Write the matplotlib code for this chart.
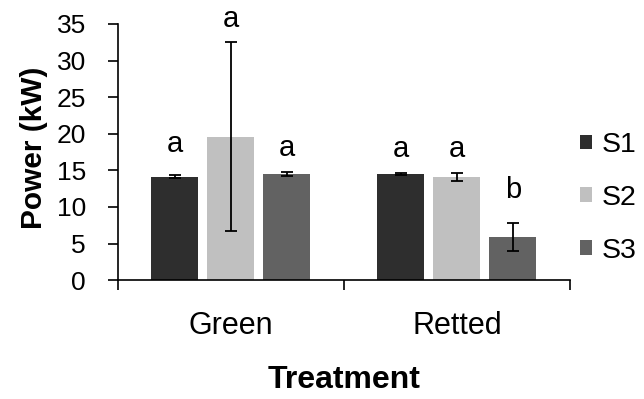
import matplotlib
matplotlib.use("Agg")
import matplotlib.pyplot as plt
import numpy as np

plt.rcParams['font.family'] = ['Liberation Sans', 'DejaVu Sans']

treatments = ['Green', 'Retted']
series = ['S1', 'S2', 'S3']
power = {'S1': [14.1, 14.5], 'S2': [19.6, 14.1], 'S3': [14.5, 5.9]}
errors = {'S1': [0.2, 0.2], 'S2': [12.9, 0.6], 'S3': [0.3, 1.9]}
letters = {'S1': ['a', 'a'], 'S2': ['a', 'a'], 'S3': ['a', 'b']}
letter_y = {'S1': [17.5, 16.8], 'S2': [34.6, 16.8], 'S3': [17.0, 11.2]}
colors = {'S1': '#2e2e2e', 'S2': '#c0c0c0', 'S3': '#626262'}

fig = plt.figure(figsize=(6.44, 3.99), dpi=100)
ax = fig.add_axes([0.183, 0.298, 0.702, 0.642])

x = np.arange(len(treatments))
width = 0.208
step = 0.248
for i, s in enumerate(series):
    pos = x + (i - 1) * step
    ax.bar(pos, power[s], width, color=colors[s], label=s, zorder=2)
    ax.errorbar(pos, power[s], yerr=errors[s], fmt='none', ecolor='black',
                elinewidth=1.3, capsize=4.5, capthick=1.3, zorder=3)
    for p, ly, l in zip(pos, letter_y[s], letters[s]):
        ax.text(p, ly, l, ha='center', va='baseline', fontsize=21)

ax.set_xlim(-0.5, 1.5)
ax.set_ylim(0, 35)
ax.set_yticks(range(0, 36, 5))
ax.set_xticks(x)
ax.set_xticklabels(treatments, fontsize=22)
ax.set_xticks([-0.5, 0.5, 1.5], minor=True)
ax.tick_params(axis='x', which='major', length=0, pad=22)
ax.tick_params(axis='x', which='minor', length=7, width=1.2, direction='out')
ax.tick_params(axis='y', labelsize=19, length=7, width=1.2, direction='out', pad=16)
for sp in ['top', 'right']:
    ax.spines[sp].set_visible(False)
for sp in ['left', 'bottom']:
    ax.spines[sp].set_linewidth(1.2)

ax.set_ylabel('Power (kW)', fontsize=21.5, fontweight='bold')
ax.yaxis.set_label_coords(-0.155, 0.518)
ax.set_xlabel('Treatment', fontsize=23, fontweight='bold', va='top')
ax.xaxis.set_label_coords(0.5, -0.33)

ax.legend(loc='center left', bbox_to_anchor=(580 / 644, 1 - 198 / 399),
          bbox_transform=fig.transFigure, frameon=False,
          fontsize=20.5, handlelength=0.42, handleheight=0.42, handletextpad=0.35,
          labelspacing=0.94, borderpad=0, borderaxespad=0)

fig.savefig('out.png', dpi=100)
